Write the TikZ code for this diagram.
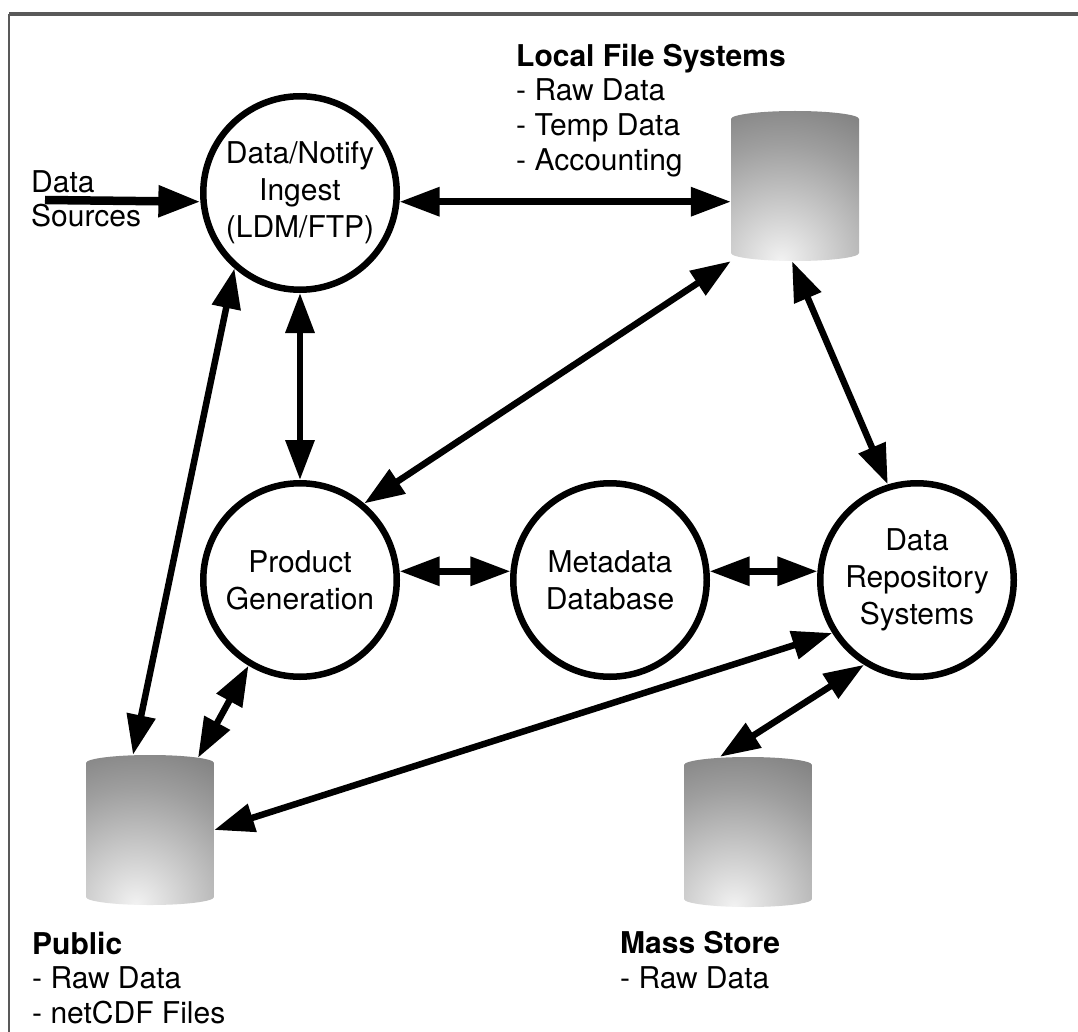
\documentclass[tikz,border=0pt]{standalone}
\usepackage{fontspec}
\setmainfont{TeX Gyre Heros}
\usetikzlibrary{arrows.meta}
\definecolor{cyllight}{gray}{0.95}
\definecolor{cylmid}{gray}{0.62}
\definecolor{cyldark}{gray}{0.32}
\definecolor{framecol}{gray}{0.35}
\pgfdeclareradialshading{cylshade}{\pgfpoint{0bp}{0bp}}{color(0bp)=(cyllight); color(12bp)=(cylmid); color(25bp)=(cyldark); color(50bp)=(cyldark)}
\tikzset{
  circ/.style={circle, draw=black, line width=6.5pt, minimum size=193.5pt, inner sep=0pt,
    align=center, font=\fontsize{30}{37}\selectfont},
  cyl/.style={minimum width=128pt, minimum height=150pt, inner sep=0pt,
    path picture={
      \clip ([yshift=-8pt]path picture bounding box.north west)
        arc[start angle=180, end angle=0, x radius=64pt, y radius=8pt]
        -- ([yshift=8pt]path picture bounding box.south east)
        arc[start angle=0, end angle=-180, x radius=64pt, y radius=8pt] -- cycle;
      \shade[shading=cylshade] ([xshift=-14pt]path picture bounding box.south) circle (245pt);
    }},
  lbl/.style={inner sep=0pt, align=left, anchor=north west, font=\fontsize{30}{34.8}\selectfont},
  arr/.style={line width=6.5pt, {Triangle[length=40pt,width=28pt]}-{Triangle[length=40pt,width=28pt]}},
  srcarr/.style={line width=8.5pt, -{Triangle[length=42pt,width=30pt]}},
}
\begin{document}
\begin{tikzpicture}[x=1pt,y=-1pt]
\useasboundingbox (0,0) rectangle (1078,1032);
\fill[white] (0,0) rectangle (1078,1032);
% frame
\coordinate (ftl) at (9,14);
\coordinate (ftr) at (1078,14);
\coordinate (fbl) at (9,1032);
\draw[framecol, line width=4.5pt] (ftl) -- (ftr);
\draw[framecol, line width=2.5pt] (ftl) -- (fbl);

% process circles
\node[circ] (ing) at (300,193) {Data/Notify\\Ingest\\(LDM/FTP)};
\node[circ] (pg)  at (300,580) {Product\\Generation};
\node[circ] (md)  at (610,580) {Metadata\\Database};
\node[circ] (drs) at (917,580) {Data\\Repository\\Systems};

% stores
\node[cyl] (lfs) at (795,186) {};
\node[cyl] (pub) at (150,830) {};
\node[cyl] (ms)  at (748,832) {};

% labels
\node[lbl] (srclbl) at (31,170) {Data\\Sources};
\node[lbl] (lfslbl) at (516,43.5) {\textbf{Local File Systems}\\- Raw Data\\- Temp Data\\- Accounting};
\node[lbl] (publbl) at (32,931.5) {\textbf{Public}\\- Raw Data\\- netCDF Files};
\node[lbl] (mslbl)  at (620,931.5) {\textbf{Mass Store}\\- Raw Data};

% connectors
\coordinate (src) at (45,200);
\draw[srcarr] (src) -- (ing.185);
\draw[arr] (ing.-5) -- (ing.-5 -| lfs.west);
\draw[arr] (ing.south) -- (pg.north);
\draw[arr] (ing.-131) -- ([xshift=-17pt]pub.north);
\draw[arr] (pg.-121) -- ([xshift=48pt,yshift=-3pt]pub.north);
\draw[arr] (pg.50) -- (lfs.south west);
\draw[arr] ([xshift=-3pt]lfs.south) -- (drs.107);
\draw[arr] (pg.5) -- (md.175);
\draw[arr] (md.5) -- (drs.175);
\draw[arr] (drs.-148) -- (pub.east);
\draw[arr] (drs.-122) -- ([xshift=-28pt]ms.north);
\end{tikzpicture}
\end{document}
